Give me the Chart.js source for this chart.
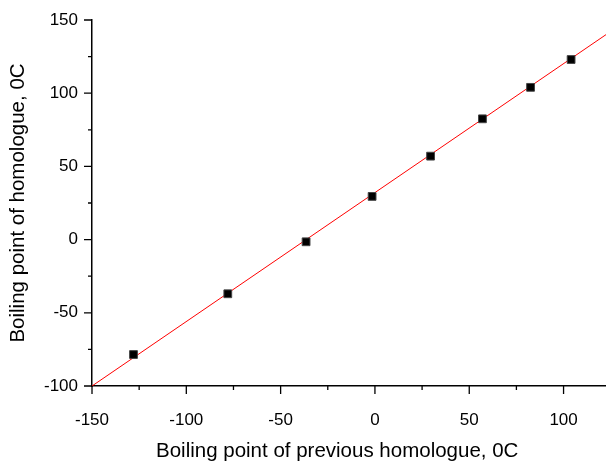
<!DOCTYPE html>
<html>
<head>
<meta charset="utf-8">
<script src="https://cdn.jsdelivr.net/npm/chart.js@4"></script>
<style>
  html, body { margin: 0; padding: 0; background: #fff; }
  #wrap { width: 606px; height: 462px; }
</style>
</head>
<body>
<div id="wrap"><canvas id="chart"></canvas></div>
<script>
// ── data ──
const prevBp = [-128, -78, -36.5, -1.5, 29.5, 57, 82.5, 104];
const homBp  = [-78.5, -37, -1.5, 29.5, 57, 82.5, 104, 123];
const fitX   = [-150, 122.5];
const fitY   = [-100, 140];
const xTicks = [-150, -100, -50, 0, 50, 100];
const yTicks = [-100, -50, 0, 50, 100, 150];
const xTitle = 'Boiling point of previous homologue, 0C';
const yTitle = 'Boiling point of homologue, 0C';

const FONT = 'Liberation Sans, Arial, sans-serif';

// ── tick marks (major + minor halfway) and x title, drawn through the scales ──
const axisExtras = {
  id: 'axisExtras',
  afterDraw(chart) {
    const ctx = chart.ctx;
    const { x, y } = chart.scales;
    ctx.save();
    ctx.strokeStyle = '#000';
    ctx.lineWidth = 1.3;
    ctx.beginPath();
    xTicks.forEach(v => {
      const px = x.getPixelForValue(v);
      ctx.moveTo(px, y.bottom); ctx.lineTo(px, y.bottom + 8);
      const mv = v + 25;
      if (mv <= x.max) {
        const mx = x.getPixelForValue(mv);
        ctx.moveTo(mx, y.bottom); ctx.lineTo(mx, y.bottom + 4);
      }
    });
    yTicks.forEach(v => {
      const py = y.getPixelForValue(v);
      ctx.moveTo(x.left, py); ctx.lineTo(x.left - 8, py);
      const mv = v + 25;
      if (mv <= y.max) {
        const my = y.getPixelForValue(mv);
        ctx.moveTo(x.left, my); ctx.lineTo(x.left - 4, my);
      }
    });
    ctx.stroke();

    // x title sits centred on the original -150..110 span, not the cropped axis
    ctx.fillStyle = '#000';
    ctx.font = `20.5px ${FONT}`;
    ctx.textAlign = 'center';
    ctx.textBaseline = 'middle';
    ctx.fillText(xTitle, x.getPixelForValue(-20), 451);
    ctx.restore();
  }
};

const noPad = s => { s.paddingLeft = 0; s.paddingRight = 0; s.paddingTop = 0; s.paddingBottom = 0; };

new Chart(document.getElementById('chart'), {
  type: 'scatter',
  data: {
    datasets: [
      {
        label: 'fit',
        type: 'line',
        data: fitX.map((v, i) => ({ x: v, y: fitY[i] })),
        borderColor: '#ff0000',
        borderWidth: 1,
        pointRadius: 0,
        fill: false,
        order: 2
      },
      {
        label: 'homologues',
        data: prevBp.map((v, i) => ({ x: v, y: homBp[i] })),
        pointStyle: 'rect',
        pointRadius: 5.5,
        backgroundColor: '#000',
        borderColor: '#444',
        borderWidth: 1,
        order: 1
      }
    ]
  },
  options: {
    responsive: true,
    maintainAspectRatio: false,
    animation: false,
    layout: { autoPadding: false, padding: { top: 20, right: 0, left: 0, bottom: 0 } },
    plugins: { legend: { display: false }, tooltip: { enabled: false } },
    scales: {
      x: {
        type: 'linear',
        min: -150,
        max: 122.5,
        afterBuildTicks: s => { s.ticks = xTicks.map(v => ({ value: v })); },
        afterFit: s => { s.height = 76; noPad(s); },
        grid: { display: false, drawTicks: false },
        border: { display: true, color: '#000', width: 1.5 },
        ticks: { color: '#000', padding: 24, maxRotation: 0, font: { family: FONT, size: 17 } }
      },
      y: {
        type: 'linear',
        min: -100,
        max: 150,
        afterBuildTicks: s => { s.ticks = yTicks.map(v => ({ value: v })); },
        afterFit: s => { s.width = 92; noPad(s); },
        grid: { display: false, drawTicks: false },
        border: { display: true, color: '#000', width: 1.5 },
        ticks: { color: '#000', padding: 14, font: { family: FONT, size: 17 } },
        title: {
          display: true,
          text: yTitle,
          color: '#000',
          font: { family: FONT, size: 20.5 },
          padding: { top: 6, bottom: 0 }
        }
      }
    }
  },
  plugins: [axisExtras]
});
</script>
</body>
</html>
